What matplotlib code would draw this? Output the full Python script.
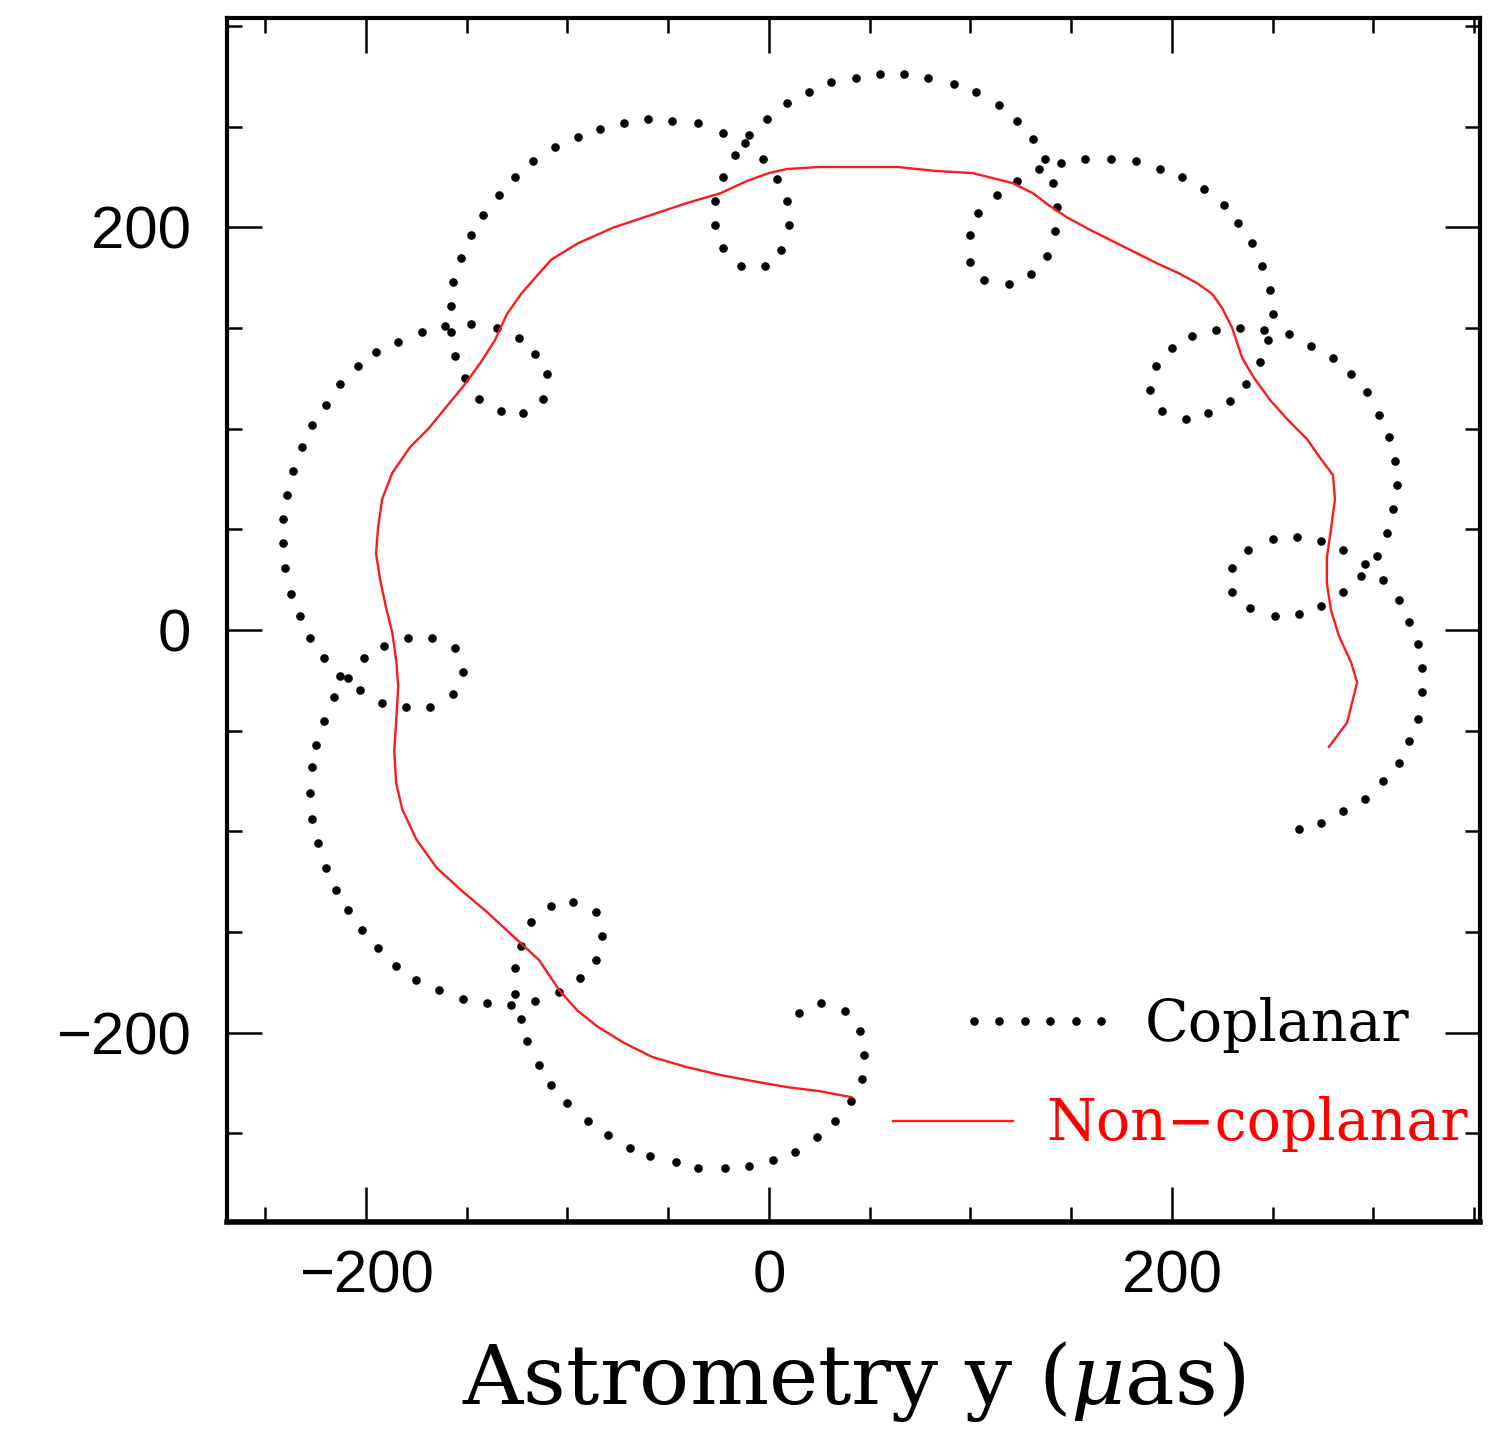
import matplotlib
matplotlib.use("Agg")
import matplotlib.pyplot as plt
from matplotlib.ticker import MultipleLocator, FixedLocator

# ---- data (micro-arcseconds) ----
coplanar_x = [263, 274, 285, 296, 305, 313, 318, 322, 324, 324,
              322, 318, 313, 305, 296, 285, 274, 262, 250, 238,
              230, 230, 239, 251, 263, 274, 285, 294, 302, 307,
              310, 312, 311, 308, 303, 297, 289, 280, 269, 258,
              246, 234, 222, 210, 200, 192, 189, 195, 207, 218,
              229, 237, 244, 248, 250, 249, 245, 240, 233, 226,
              216, 205, 194, 182, 170, 157, 145, 134, 123, 113,
              104, 100, 100, 107, 119, 130, 138, 142, 143, 141,
              137, 131, 123, 114, 103, 92, 79, 67, 55, 43,
              31, 20, 9, -1, -10, -17, -23, -27, -27, -23,
              -14, -2, 6, 10, 9, 4, -3, -12, -23, -35,
              -48, -60, -72, -84, -95, -106, -117, -126, -134, -142,
              -148, -153, -157, -158, -158, -156, -151, -144, -133, -122,
              -112, -110, -116, -124, -135, -148, -161, -172, -184, -195,
              -204, -213, -220, -227, -232, -236, -239, -241, -241, -240,
              -237, -233, -228, -221, -213, -203, -192, -180, -168, -157,
              -152, -156, -167, -179, -191, -201, -209, -216, -221, -225,
              -227, -228, -227, -224, -220, -215, -209, -202, -194, -185,
              -175, -164, -152, -140, -128, -116, -104, -94, -86, -83,
              -86, -97, -108, -118, -123, -126, -126, -123, -120, -114,
              -108, -100, -90, -80, -69, -59, -46, -35, -22, -10,
              2, 13, 24, 33, 41, 46, 47, 45, 38, 26, 15]
coplanar_y = [-99, -96, -90, -84, -75, -66, -55, -44, -31, -19,
              -7, 4, 15, 25, 33, 40, 44, 46, 45, 40,
              31, 19, 11, 7, 8, 12, 19, 27, 37, 48,
              60, 72, 84, 96, 107, 118, 127, 135, 141, 147,
              149, 150, 149, 146, 140, 131, 119, 109, 105, 108,
              114, 122, 133, 144, 157, 169, 181, 192, 202, 211,
              219, 225, 229, 233, 234, 234, 232, 229, 223, 216,
              207, 196, 183, 174, 172, 177, 186, 198, 210, 222,
              234, 244, 253, 261, 267, 271, 274, 276, 276, 274,
              272, 267, 262, 254, 246, 236, 225, 213, 201, 190,
              181, 181, 189, 201, 213, 224, 234, 242, 247, 252,
              253, 254, 252, 249, 245, 240, 233, 225, 216, 206,
              196, 185, 173, 161, 148, 136, 125, 115, 109, 108,
              115, 127, 137, 145, 150, 152, 151, 148, 143, 138,
              131, 122, 112, 102, 91, 79, 67, 55, 43, 31,
              18, 7, -4, -14, -23, -30, -36, -38, -38, -32,
              -21, -9, -4, -4, -8, -14, -24, -33, -45, -57,
              -68, -81, -94, -106, -118, -129, -139, -149, -158, -167,
              -174, -179, -183, -185, -186, -184, -180, -173, -164, -152,
              -140, -135, -137, -145, -157, -168, -181, -193, -204, -216,
              -226, -235, -244, -251, -257, -261, -264, -267, -267, -266,
              -263, -259, -252, -244, -234, -223, -211, -199, -189, -185, -190]

noncoplanar_x = [278, 287, 292, 289, 283, 279, 277, 277, 279, 281,
                 280, 274, 267, 258, 249, 241, 235, 230, 225, 220,
                 213, 204, 193, 181, 171, 159, 148, 139, 131, 121,
                 101, 83, 64, 45, 25, 9, 0, -11, -24, -41,
                 -59, -77, -95, -108, -116, -123, -130, -136, -143, -151,
                 -160, -169, -178, -187, -192, -194, -195, -193, -190, -187,
                 -185, -184, -185, -186, -185, -182, -175, -165, -153, -140,
                 -127, -114, -104, -95, -85, -72, -58, -41, -24, -8,
                 9, 25, 41]
noncoplanar_y = [-58, -46, -26, -16, -3, 10, 23, 36, 50, 65,
                 77, 85, 95, 104, 114, 125, 135, 150, 160, 167,
                 172, 177, 182, 188, 193, 199, 205, 211, 217, 222,
                 227, 228, 230, 230, 230, 229, 227, 223, 217, 212,
                 206, 200, 192, 184, 175, 167, 157, 144, 133, 122,
                 111, 100, 91, 78, 65, 51, 38, 25, 11, -1,
                 -15, -28, -45, -60, -76, -89, -104, -118, -129, -140,
                 -152, -164, -179, -189, -197, -205, -212, -217, -221, -224,
                 -227, -229, -232]

series_labels = ["Coplanar", "Non\u2212coplanar"]
x_major_ticks = [-200, 0, 200]
y_major_ticks = [-200, 0, 200]
x_label = r"Astrometry y ($\mu$as)"

plt.rcParams["mathtext.fontset"] = "dejavuserif"

W, H = 1512, 1433
fig = plt.figure(figsize=(W / 100, H / 100), dpi=100)
ax = fig.add_axes([227 / W, 1 - 1222 / H, 1253 / W, 1204 / H])

h1, = ax.plot(coplanar_x, coplanar_y, linestyle="none", marker="o",
              markersize=6.2, markeredgewidth=0, color="black")
h2, = ax.plot(noncoplanar_x, noncoplanar_y, color="#ff1a1a", lw=1.7,
              solid_joinstyle="round")

ax.set_xlim(-269, 353)
ax.set_ylim(-294, 304)

ax.xaxis.set_major_locator(FixedLocator(x_major_ticks))
ax.yaxis.set_major_locator(FixedLocator(y_major_ticks))
ax.xaxis.set_minor_locator(MultipleLocator(50))
ax.yaxis.set_minor_locator(MultipleLocator(50))

ax.tick_params(which="both", direction="in", top=True, right=True,
               color="black")
ax.tick_params(which="major", length=25, width=1.8)
ax.tick_params(which="minor", length=11, width=1.8)
ax.tick_params(axis="x", which="major", pad=20, labelsize=43)
ax.tick_params(axis="y", which="major", pad=26, labelsize=43)
for lab in ax.get_xticklabels() + ax.get_yticklabels():
    lab.set_family("Liberation Sans")

for side in ["left", "top", "right"]:
    ax.spines[side].set_linewidth(3.0)
ax.spines["bottom"].set_linewidth(4.0)

ax.set_xlabel(x_label, fontsize=60, family="DejaVu Serif", labelpad=25)

leg_font = {"family": "DejaVu Serif", "size": 41}
leg1 = ax.legend([h1], [series_labels[0]], loc="center right",
                 bbox_to_anchor=(0.944, 0.164), frameon=False,
                 borderpad=0, borderaxespad=0, numpoints=6,
                 handlelength=2.84, handletextpad=0.47, prop=leg_font)
ax.add_artist(leg1)
leg2 = ax.legend([h2], [series_labels[1]], loc="center right",
                 bbox_to_anchor=(0.99, 0.081), frameon=False,
                 borderpad=0, borderaxespad=0,
                 handlelength=2.1, handletextpad=0.58, prop=leg_font)
for t in leg2.get_texts():
    t.set_color("#ff0000")

fig.savefig("out.png", dpi=100)
